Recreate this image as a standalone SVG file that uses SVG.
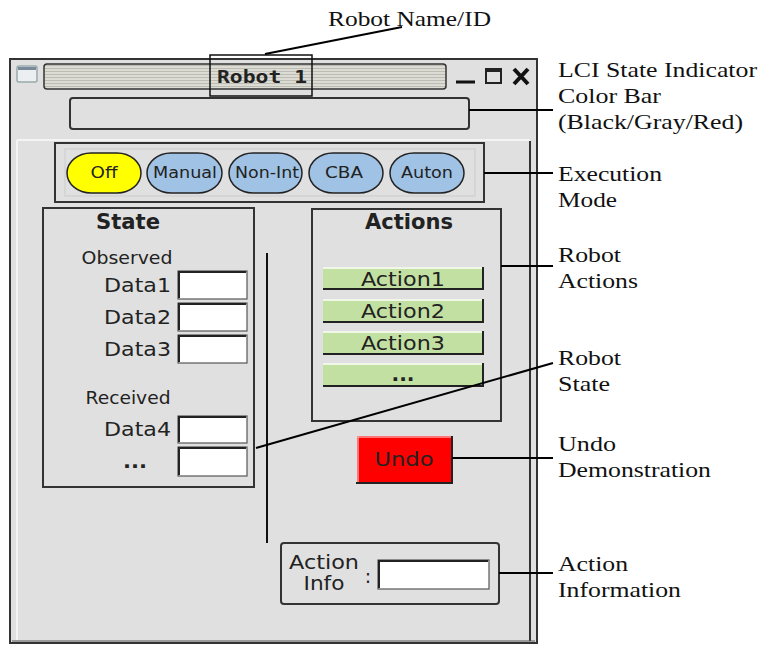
<svg xmlns="http://www.w3.org/2000/svg" width="759" height="645" viewBox="0 0 759 645">
<style>
.ui{font-family:"DejaVu Sans","Liberation Sans",sans-serif;fill:#222}
.lbl{font-family:"Liberation Serif","Times New Roman",serif;font-size:22px;fill:#111}
.box{fill:none;stroke:#333;stroke-width:2}
.field{fill:#fff;stroke:#555;stroke-width:1.2}
.fieldsh{fill:none;stroke:#222;stroke-width:2}
.mode{stroke:#222;stroke-width:1.5}
.act{fill:#c2e0a2}
.bev{fill:none;stroke:#222;stroke-width:2}
.hl{fill:none;stroke:#fff;stroke-width:1.5}
.con line{stroke:#000;stroke-width:2}
</style>
<defs>
<pattern id="stripes" width="4" height="3" patternUnits="userSpaceOnUse">
<rect width="4" height="3" fill="#dcdcd4"/>
<rect y="2" width="4" height="1" fill="#bcbcb4"/>
</pattern>
</defs>
<rect width="759" height="645" fill="#fff"/>

<g id="window">
<rect x="10" y="59" width="527" height="584" fill="#e0e0e0" stroke="#333" stroke-width="2"/>
<line x1="17" y1="140" x2="530" y2="140" stroke="#f4f4f4" stroke-width="2"/>
<line x1="17" y1="140" x2="17" y2="640" stroke="#f4f4f4" stroke-width="2"/>
<line x1="530" y1="141" x2="530" y2="641" stroke="#333" stroke-width="2"/>
<line x1="12" y1="641" x2="535" y2="641" stroke="#555" stroke-width="1"/>
</g>

<g id="titlebar">
<rect x="17" y="66" width="20" height="16" rx="2" fill="#eceff2" stroke="#9aa" stroke-width="1.5"/>
<rect x="18" y="67" width="18" height="3" fill="#7a8a9a"/>
<rect x="44" y="64" width="402" height="25" rx="3" fill="url(#stripes)" stroke="#333" stroke-width="1.5"/>
<text x="262" y="83" font-family="'DejaVu Sans Mono','Liberation Mono',monospace" font-size="17" font-weight="bold" fill="#222" text-anchor="middle" textLength="90" lengthAdjust="spacingAndGlyphs">Robot 1</text>
<line x1="456" y1="82" x2="475" y2="82" stroke="#111" stroke-width="3"/>
<rect x="486" y="69" width="15" height="14" fill="#e0e0e0" stroke="#222" stroke-width="2"/>
<line x1="486" y1="70.5" x2="501" y2="70.5" stroke="#222" stroke-width="3"/>
<path d="M514 69 L528 84 M528 69 L514 84" stroke="#111" stroke-width="4"/>
</g>

<g id="name-id-box">
<rect x="210" y="55" width="102" height="41" fill="none" stroke="#111" stroke-width="1.5"/>
</g>

<g id="color-bar">
<rect x="70" y="98" width="399" height="31" rx="3" fill="#e0e0e0" stroke="#333" stroke-width="2"/>
</g>

<g id="mode-group">
<rect x="55" y="143" width="429" height="59" class="box"/>
<rect x="65" y="149" width="410" height="47" fill="none" stroke="#d2d2d2" stroke-width="1.5"/>
<rect x="67" y="153" width="74" height="40" rx="24" ry="20" fill="#ffff00" class="mode"/>
<text class="ui" x="104" y="178" font-size="15" text-anchor="middle" fill="#333" textLength="27" lengthAdjust="spacingAndGlyphs">Off</text>
<rect x="147" y="153" width="75" height="40" rx="24" ry="20" fill="#a0c2e4" class="mode"/>
<text class="ui" x="185" y="178" font-size="15" text-anchor="middle" fill="#333" textLength="64" lengthAdjust="spacingAndGlyphs">Manual</text>
<rect x="229" y="153" width="73" height="40" rx="24" ry="20" fill="#a0c2e4" class="mode"/>
<text class="ui" x="267" y="178" font-size="15" text-anchor="middle" fill="#333" textLength="64" lengthAdjust="spacingAndGlyphs">Non-Int</text>
<rect x="309" y="153" width="74" height="40" rx="24" ry="20" fill="#a0c2e4" class="mode"/>
<text class="ui" x="344" y="178" font-size="15" text-anchor="middle" fill="#333" textLength="38" lengthAdjust="spacingAndGlyphs">CBA</text>
<rect x="390" y="153" width="74" height="40" rx="24" ry="20" fill="#a0c2e4" class="mode"/>
<text class="ui" x="427" y="178" font-size="15" text-anchor="middle" fill="#333" textLength="52" lengthAdjust="spacingAndGlyphs">Auton</text>
</g>

<g id="state-group">
<rect x="43" y="208" width="211" height="279" class="box"/>
<text class="ui" x="128" y="229" font-size="21" font-weight="bold" text-anchor="middle" textLength="64" lengthAdjust="spacingAndGlyphs">State</text>
<text class="ui" x="127" y="264" font-size="17" text-anchor="middle" fill="#333" textLength="91" lengthAdjust="spacingAndGlyphs">Observed</text>
<text class="ui" x="171" y="292" font-size="20" text-anchor="end" textLength="67" lengthAdjust="spacingAndGlyphs">Data1</text>
<text class="ui" x="171" y="324" font-size="20" text-anchor="end" textLength="67" lengthAdjust="spacingAndGlyphs">Data2</text>
<text class="ui" x="171" y="356" font-size="20" text-anchor="end" textLength="67" lengthAdjust="spacingAndGlyphs">Data3</text>
<text class="ui" x="128" y="404" font-size="17" text-anchor="middle" fill="#333" textLength="85" lengthAdjust="spacingAndGlyphs">Received</text>
<text class="ui" x="171" y="436" font-size="20" text-anchor="end" textLength="67" lengthAdjust="spacingAndGlyphs">Data4</text>
<text class="ui" x="135" y="468" font-size="20" font-weight="bold" text-anchor="middle" textLength="24" lengthAdjust="spacingAndGlyphs">...</text>
<rect x="178" y="271" width="69" height="28" class="field"/>
<path d="M179 298 V272 H246" class="fieldsh"/>
<rect x="178" y="303" width="69" height="28" class="field"/>
<path d="M179 330 V304 H246" class="fieldsh"/>
<rect x="178" y="335" width="69" height="28" class="field"/>
<path d="M179 362 V336 H246" class="fieldsh"/>
<rect x="178" y="416" width="69" height="27" class="field"/>
<path d="M179 442 V417 H246" class="fieldsh"/>
<rect x="178" y="447" width="69" height="29" class="field"/>
<path d="M179 475 V448 H246" class="fieldsh"/>
</g>

<g id="separator">
<line x1="267" y1="253" x2="267" y2="543" stroke="#111" stroke-width="2"/>
</g>

<g id="actions-group">
<rect x="312" y="209" width="189" height="212" class="box"/>
<text class="ui" x="409" y="229" font-size="21" font-weight="bold" text-anchor="middle" textLength="88" lengthAdjust="spacingAndGlyphs">Actions</text>
<rect x="323" y="267" width="160" height="22" class="act"/>
<path d="M323 268 H482" class="hl"/>
<path d="M323 289 H483 V267" class="bev"/>
<text class="ui" x="403" y="286" font-size="19" text-anchor="middle" textLength="84" lengthAdjust="spacingAndGlyphs">Action1</text>
<rect x="323" y="299" width="160" height="23" class="act"/>
<path d="M323 300 H482" class="hl"/>
<path d="M323 322 H483 V299" class="bev"/>
<text class="ui" x="403" y="318" font-size="19" text-anchor="middle" textLength="84" lengthAdjust="spacingAndGlyphs">Action2</text>
<rect x="323" y="331" width="160" height="23" class="act"/>
<path d="M323 332 H482" class="hl"/>
<path d="M323 354 H483 V331" class="bev"/>
<text class="ui" x="403" y="350" font-size="19" text-anchor="middle" textLength="84" lengthAdjust="spacingAndGlyphs">Action3</text>
<rect x="323" y="363" width="160" height="23" class="act"/>
<path d="M323 364 H482" class="hl"/>
<path d="M323 386 H483 V363" class="bev"/>
<text class="ui" x="403" y="381" font-size="19" font-weight="bold" text-anchor="middle" textLength="23" lengthAdjust="spacingAndGlyphs">...</text>
</g>

<g id="undo-button">
<rect x="357" y="436" width="95" height="47" fill="#ff0000"/>
<path d="M357 437 H451 M358 436 V482" stroke="#ff9a9a" stroke-width="1.5" fill="none"/>
<path d="M356 483 H452 V436" class="bev"/>
<text class="ui" x="404" y="466" font-size="20" text-anchor="middle" fill="#3a0000" textLength="59" lengthAdjust="spacingAndGlyphs">Undo</text>
</g>

<g id="action-info">
<rect x="281" y="543" width="218" height="61" rx="3" class="box"/>
<text class="ui" x="324" y="569" font-size="19" text-anchor="middle" textLength="70" lengthAdjust="spacingAndGlyphs">Action</text>
<text class="ui" x="324" y="590" font-size="19" text-anchor="middle" textLength="41" lengthAdjust="spacingAndGlyphs">Info</text>
<text class="ui" x="368" y="583" font-size="19" text-anchor="middle">:</text>
<rect x="378" y="560" width="111" height="29" class="field"/>
<path d="M379 588 V561 H488" class="fieldsh"/>
</g>

<g class="con" id="connectors">
<line x1="265" y1="54" x2="402" y2="27"/>
<line x1="469" y1="110" x2="553" y2="110"/>
<line x1="484" y1="173" x2="553" y2="173"/>
<line x1="501" y1="266" x2="553" y2="266"/>
<line x1="256" y1="448" x2="553" y2="363"/>
<line x1="452" y1="458" x2="553" y2="458"/>
<line x1="499" y1="573" x2="553" y2="573"/>
</g>

<g id="labels">
<text class="lbl" x="328" y="26" textLength="163" lengthAdjust="spacingAndGlyphs">Robot Name/ID</text>
<text class="lbl" x="558" y="77" textLength="199" lengthAdjust="spacingAndGlyphs">LCI State Indicator</text>
<text class="lbl" x="558" y="103" textLength="103" lengthAdjust="spacingAndGlyphs">Color Bar</text>
<text class="lbl" x="558" y="129" textLength="185" lengthAdjust="spacingAndGlyphs">(Black/Gray/Red)</text>
<text class="lbl" x="558" y="181" textLength="104" lengthAdjust="spacingAndGlyphs">Execution</text>
<text class="lbl" x="558" y="207" textLength="59" lengthAdjust="spacingAndGlyphs">Mode</text>
<text class="lbl" x="558" y="262" textLength="63" lengthAdjust="spacingAndGlyphs">Robot</text>
<text class="lbl" x="558" y="288" textLength="80" lengthAdjust="spacingAndGlyphs">Actions</text>
<text class="lbl" x="558" y="365" textLength="63" lengthAdjust="spacingAndGlyphs">Robot</text>
<text class="lbl" x="558" y="391" textLength="52" lengthAdjust="spacingAndGlyphs">State</text>
<text class="lbl" x="558" y="451" textLength="58" lengthAdjust="spacingAndGlyphs">Undo</text>
<text class="lbl" x="558" y="477" textLength="153" lengthAdjust="spacingAndGlyphs">Demonstration</text>
<text class="lbl" x="558" y="571" textLength="70" lengthAdjust="spacingAndGlyphs">Action</text>
<text class="lbl" x="558" y="597" textLength="123" lengthAdjust="spacingAndGlyphs">Information</text>
</g>
</svg>
